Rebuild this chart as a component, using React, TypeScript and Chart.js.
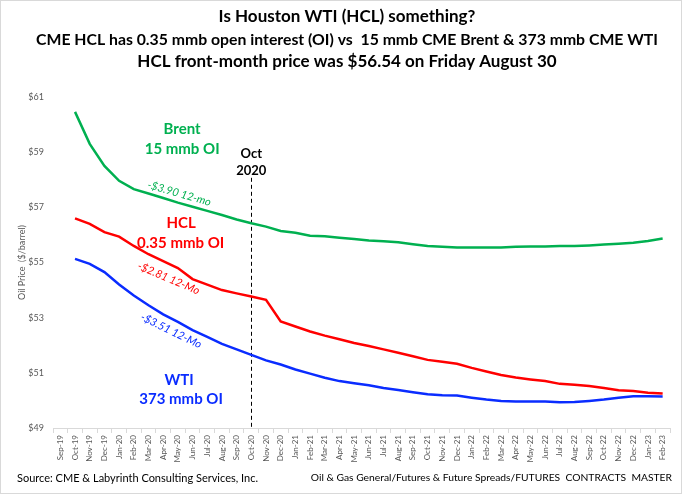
import React, { useEffect, useRef } from "react";
import { Chart, registerables } from "chart.js";

Chart.register(...registerables);

const months: string[] = [
  "Sep-19", "Oct-19", "Nov-19", "Dec-19",
  "Jan-20", "Feb-20", "Mar-20", "Apr-20", "May-20", "Jun-20", "Jul-20", "Aug-20", "Sep-20", "Oct-20", "Nov-20", "Dec-20",
  "Jan-21", "Feb-21", "Mar-21", "Apr-21", "May-21", "Jun-21", "Jul-21", "Aug-21", "Sep-21", "Oct-21", "Nov-21", "Dec-21",
  "Jan-22", "Feb-22", "Mar-22", "Apr-22", "May-22", "Jun-22", "Jul-22", "Aug-22", "Sep-22", "Oct-22", "Nov-22", "Dec-22",
  "Jan-23", "Feb-23",
];

const brent: (number | null)[] = [
  null, 60.46, 59.3, 58.5,
  57.96, 57.66, 57.5, 57.34, 57.17, 57.02, 56.87, 56.72, 56.56, 56.42, 56.3, 56.14,
  56.08, 55.97, 55.95, 55.9, 55.85, 55.8, 55.77, 55.73, 55.66, 55.6, 55.57, 55.54,
  55.54, 55.54, 55.54, 55.57, 55.58, 55.58, 55.6, 55.6, 55.62, 55.65, 55.68, 55.72,
  55.78, 55.87,
];

const hcl: (number | null)[] = [
  null, 56.6, 56.4, 56.1,
  55.94, 55.6, 55.3, 55.05, 54.8, 54.4, 54.2, 54.0, 53.88, 53.77, 53.65, 52.86,
  52.68, 52.5, 52.35, 52.22, 52.08, 51.97, 51.85, 51.73, 51.6, 51.47, 51.4, 51.33,
  51.18, 51.05, 50.92, 50.83, 50.76, 50.7, 50.6, 50.57, 50.52, 50.45, 50.37, 50.34,
  50.28, 50.25,
];

const wti: (number | null)[] = [
  null, 55.13, 54.95, 54.65,
  54.2, 53.8, 53.45, 53.12, 52.85, 52.55, 52.3, 52.05, 51.85, 51.65, 51.45, 51.3,
  51.12, 50.97, 50.82, 50.7, 50.62, 50.55, 50.45, 50.38, 50.3, 50.22, 50.19, 50.18,
  50.1, 50.03, 49.98, 49.96, 49.96, 49.96, 49.93, 49.94, 49.98, 50.03, 50.1, 50.15,
  50.15, 50.14,
];

const yTickValues: number[] = [49, 51, 53, 55, 57, 59, 61];

const titleLines: string[] = [
  "Is Houston WTI (HCL) something?",
  "CME HCL has 0.35 mmb open interest (OI) vs  15 mmb CME Brent & 373 mmb CME WTI",
  "HCL front-month price was $56.54 on Friday August 30",
];

const yAxisTitle = "Oil Price  ($/barrel)";
const sourceText = "Source: CME & Labyrinth Consulting Services, Inc.";
const pathText = "Oil & Gas General/Futures & Future Spreads/FUTURES  CONTRACTS  MASTER";

const markerMonth = "Oct-20";
const markerTopValue = 58.07;

const GREEN = "#00b050";
const RED = "#ff0000";
const BLUE = "#0a2cff";
const FONT = "Lato, 'Open Sans', sans-serif";

type Note = { text: string; x: number; y: number; color: string; font: string; angle: number };

// positions in data units: x = category index, y = price
const notes: Note[] = [
  { text: "Brent", x: 8.29, y: 59.84, color: GREEN, font: `bold 15px ${FONT}`, angle: 0 },
  { text: "15 mmb OI", x: 8.29, y: 59.12, color: GREEN, font: `bold 15px ${FONT}`, angle: 0 },
  { text: "Oct", x: 13, y: 58.93, color: "#000000", font: `bold 13px ${FONT}`, angle: 0 },
  { text: "2020", x: 13, y: 58.32, color: "#000000", font: `bold 13px ${FONT}`, angle: 0 },
  { text: "-$3.90 12-mo", x: 8.1, y: 57.5, color: GREEN, font: `italic 11px ${FONT}`, angle: 16 },
  { text: "HCL", x: 8.22, y: 56.43, color: RED, font: `bold 15px ${FONT}`, angle: 0 },
  { text: "0.35 mmb OI", x: 8.19, y: 55.71, color: RED, font: `bold 15px ${FONT}`, angle: 0 },
  { text: "-$2.81 12-Mo", x: 7.37, y: 54.42, color: RED, font: `italic 11px ${FONT}`, angle: 23 },
  { text: "-$3.51 12-Mo", x: 7.54, y: 52.52, color: BLUE, font: `italic 11px ${FONT}`, angle: 26 },
  { text: "WTI", x: 8.08, y: 50.75, color: BLUE, font: `bold 15px ${FONT}`, angle: 0 },
  { text: "373 mmb OI", x: 8.22, y: 50.06, color: BLUE, font: `bold 15px ${FONT}`, angle: 0 },
];

const decorPlugin = {
  id: "decor",
  beforeDatasetsDraw(chart: any) {
    const ctx = chart.ctx as CanvasRenderingContext2D;
    const xs = chart.scales.x;
    const ys = chart.scales.y;
    const x = xs.getPixelForValue(months.indexOf(markerMonth));
    ctx.save();
    ctx.strokeStyle = "#000000";
    ctx.lineWidth = 1;
    ctx.setLineDash([4, 3]);
    ctx.beginPath();
    ctx.moveTo(Math.round(x) + 0.5, ys.getPixelForValue(markerTopValue));
    ctx.lineTo(Math.round(x) + 0.5, chart.chartArea.bottom);
    ctx.stroke();
    ctx.restore();
  },
  afterDraw(chart: any) {
    const ctx = chart.ctx as CanvasRenderingContext2D;
    const xs = chart.scales.x;
    const ys = chart.scales.y;
    const W = chart.width;
    const H = chart.height;
    ctx.save();
    // outer border
    ctx.strokeStyle = "#d9d9d9";
    ctx.lineWidth = 1;
    ctx.strokeRect(0.5, 0.5, W - 2, H - 2);

    // titles
    ctx.fillStyle = "#000000";
    ctx.textAlign = "center";
    ctx.textBaseline = "middle";
    const titleY = [17, 40, 62];
    const titleSize = [17, 15.8, 17];
    titleLines.forEach((t, i) => {
      ctx.font = `bold ${titleSize[i]}px ${FONT}`;
      ctx.fillText(t, 347, titleY[i]);
    });

    // footer
    ctx.font = `11px ${FONT}`;
    ctx.textAlign = "left";
    ctx.fillText(sourceText, 17, 478);
    ctx.font = `10.3px ${FONT}`;
    ctx.textAlign = "right";
    ctx.fillText(pathText, 672, 478);

    // y-axis title
    ctx.save();
    ctx.translate(22, (chart.chartArea.top + chart.chartArea.bottom) / 2);
    ctx.rotate(-Math.PI / 2);
    ctx.textAlign = "center";
    ctx.fillStyle = "#595959";
    ctx.font = `9px ${FONT}`;
    ctx.fillText(yAxisTitle, 0, 0);
    ctx.restore();

    // annotations
    notes.forEach((n) => {
      const px = xs.getPixelForValue(n.x);
      const py = ys.getPixelForValue(n.y);
      ctx.save();
      ctx.translate(px, py);
      ctx.rotate((n.angle * Math.PI) / 180);
      ctx.font = n.font;
      ctx.fillStyle = n.color;
      ctx.textAlign = "center";
      ctx.textBaseline = "middle";
      ctx.fillText(n.text, 0, 0);
      ctx.restore();
    });
    ctx.restore();
  },
};

export default function App() {
  const ref = useRef<HTMLCanvasElement | null>(null);

  useEffect(() => {
    if (!ref.current) return;
    const chart = new Chart(ref.current, {
      type: "line",
      data: {
        labels: months,
        datasets: [
          { label: "Brent", data: brent, borderColor: GREEN, borderWidth: 2.5, pointRadius: 0, tension: 0, fill: false },
          { label: "HCL", data: hcl, borderColor: RED, borderWidth: 2.5, pointRadius: 0, tension: 0, fill: false },
          { label: "WTI", data: wti, borderColor: BLUE, borderWidth: 2.5, pointRadius: 0, tension: 0, fill: false },
        ],
      },
      options: {
        responsive: false,
        animation: false,
        events: [],
        layout: { padding: { top: 97, right: 13, left: 0, bottom: 0 } },
        plugins: { legend: { display: false }, tooltip: { enabled: false }, title: { display: false } },
        scales: {
          x: {
            type: "category",
            offset: true,
            grid: { display: true, drawOnChartArea: false, offset: true, color: "#d9d9d9", tickLength: 5 },
            border: { display: true, color: "#d9d9d9" },
            ticks: {
              autoSkip: false,
              minRotation: 90,
              maxRotation: 90,
              padding: 2,
              color: "#595959",
              font: { family: FONT, size: 8 },
            },
            afterFit: (s: any) => { s.height = 67; },
          },
          y: {
            min: 49,
            max: 61,
            grid: { display: false, drawTicks: false },
            border: { display: false },
            afterBuildTicks: (s: any) => { s.ticks = yTickValues.map((v) => ({ value: v })); },
            ticks: {
              padding: 9,
              color: "#595959",
              font: { family: FONT, size: 9 },
              callback: (v: any) => `$${v}`,
            },
            afterFit: (s: any) => { s.width = 53; },
          },
        },
      },
      plugins: [decorPlugin],
    } as any);
    return () => chart.destroy();
  }, []);

  return (
    <div style={{ position: "absolute", left: 0, top: 0, width: 683, height: 495, background: "#ffffff" }}>
      <canvas ref={ref} width={683} height={495} style={{ display: "block" }} />
    </div>
  );
}
